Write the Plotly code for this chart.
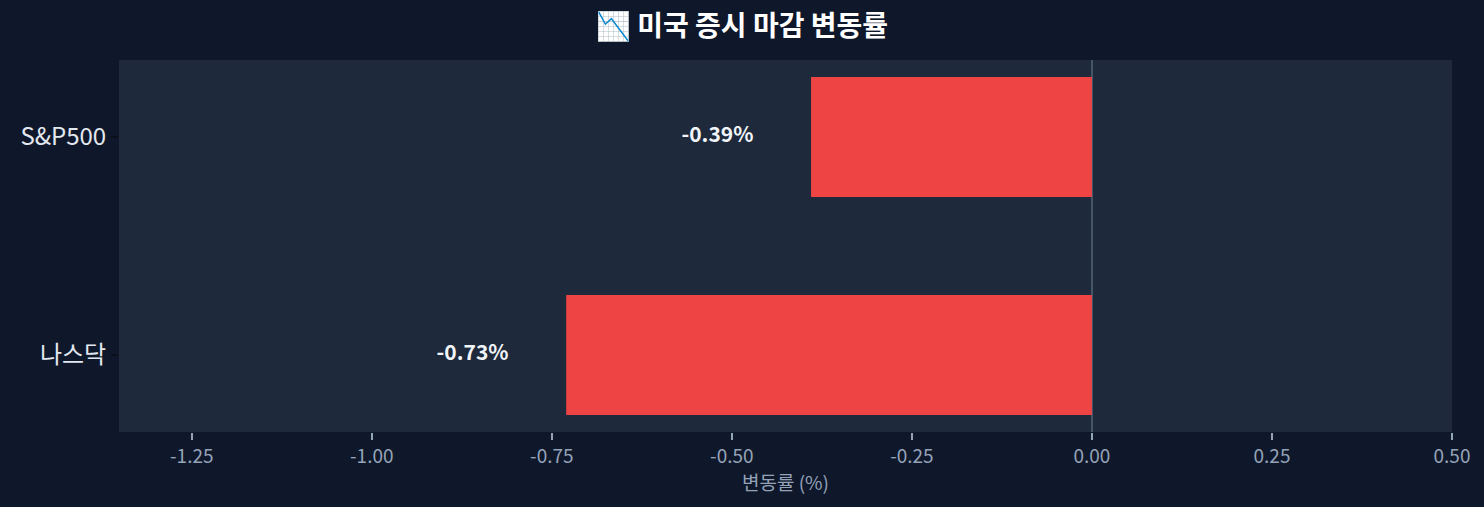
import plotly.graph_objects as go

# 미국 증시 마감 변동률
indices = ["나스닥", "S&P500"]
changes = [-0.73, -0.39]
labels = ["-0.73%", "-0.39%"]
x_ticks = [-1.25, -1.0, -0.75, -0.5, -0.25, 0.0, 0.25, 0.5]

font_family = "Noto Sans CJK KR, Noto Sans, sans-serif"

fig = go.Figure()

fig.add_trace(go.Bar(
    x=changes,
    y=indices,
    orientation="h",
    width=0.55,
    marker=dict(color="#ef4444", line=dict(width=0)),
    hoverinfo="x+y",
))

# value labels to the left of each bar
fig.add_trace(go.Scatter(
    x=[v - 0.08 for v in changes],
    y=indices,
    mode="text",
    text=labels,
    textposition="middle left",
    textfont=dict(color="#f1f5f9", size=21, family=font_family),
    texttemplate="<b>%{text}</b>",
    hoverinfo="skip",
))

fig.update_layout(
    width=1484,
    height=507,
    margin=dict(l=119, r=32, t=60, b=75),
    paper_bgcolor="#0f172a",
    plot_bgcolor="#1e293b",
    showlegend=False,
    font=dict(family=font_family, color="#94a3b8"),
    title=dict(
        text="<b>📉 미국 증시 마감 변동률</b>",
        x=0.5,
        xanchor="center",
        y=0.949,
        yanchor="middle",
        font=dict(size=28, color="#ffffff", family=font_family),
    ),
)

fig.update_xaxes(
    range=[-1.351, 0.5],
    tickvals=x_ticks,
    ticktext=["%.2f" % t for t in x_ticks],
    ticks="outside",
    ticklen=7,
    tickwidth=1.5,
    tickcolor="#94a3b8",
    tickfont=dict(size=19, color="#94a3b8"),
    showgrid=False,
    zeroline=True,
    zerolinecolor="#475569",
    zerolinewidth=2,
    title=dict(text="변동률 (%)", font=dict(size=19, color="#94a3b8"), standoff=3),
    showline=False,
)

fig.update_yaxes(
    range=[-0.353, 1.353],
    ticks="outside",
    ticklen=7,
    tickwidth=1.5,
    tickcolor="#0b0f19",
    tickfont=dict(size=24, color="#e2e8f0"),
    showgrid=False,
    zeroline=False,
    showline=False,
)

# drop the default page margin so the figure fills the window
fig.write_html("out.html", config={"displayModeBar": False},
               post_script="document.body.style.margin='0';")
